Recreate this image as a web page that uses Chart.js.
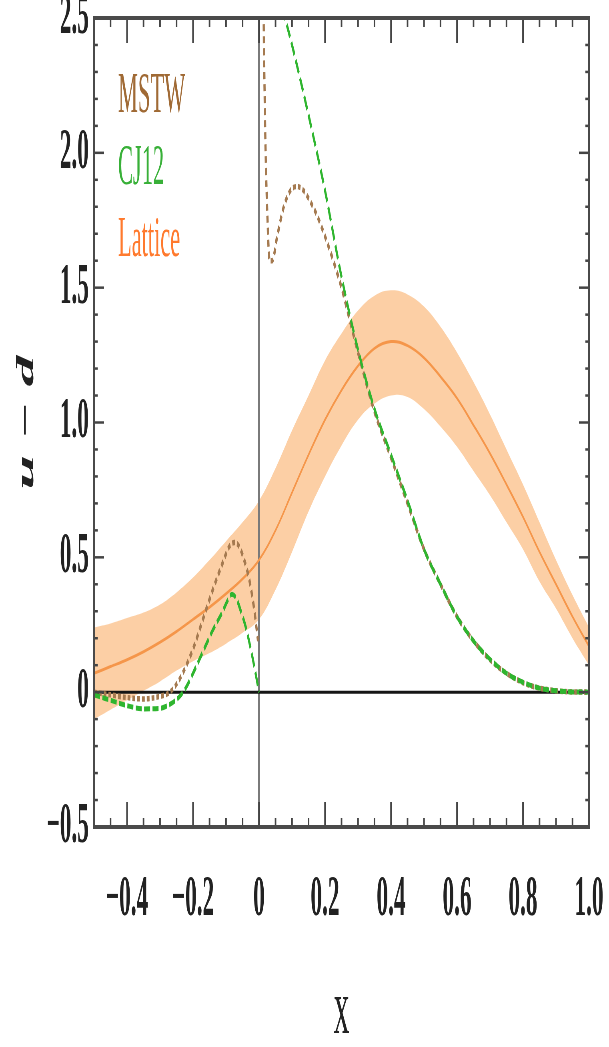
<!DOCTYPE html>
<html>
<head>
<meta charset="utf-8">
<script src="https://cdn.jsdelivr.net/npm/chart.js@4.4.1/dist/chart.umd.min.js"></script>
<style>
html, body { margin: 0; padding: 0; background: #fff; overflow: hidden; width: 609px; height: 1047px; }
/* the reference is squeezed horizontally, so draw wide and compress */
#wrap { position: absolute; left: 0; top: 0; width: 1522px; height: 1047px; transform: scaleX(0.40013); transform-origin: 0 0; }
</style>
</head>
<body>
<div id="wrap"><canvas id="chart" width="1522" height="1047"></canvas></div>
<script>
// ---- data ----
const latX = [-0.5,-0.45,-0.4,-0.35,-0.3,-0.25,-0.2,-0.15,-0.1,-0.05,0,0.05,0.1,0.15,0.2,0.25,0.3,0.35,0.4,0.45,0.5,0.55,0.6,0.65,0.7,0.75,0.8,0.85,0.9,0.95,1.0];
const latMid = [0.07,0.095,0.12,0.15,0.185,0.225,0.27,0.315,0.365,0.42,0.49,0.60,0.74,0.88,1.01,1.12,1.21,1.275,1.30,1.285,1.24,1.17,1.09,0.99,0.885,0.77,0.65,0.52,0.40,0.28,0.17];
const latUp = [0.24,0.255,0.275,0.295,0.325,0.37,0.425,0.49,0.56,0.63,0.71,0.83,0.97,1.10,1.23,1.33,1.415,1.47,1.49,1.475,1.43,1.355,1.26,1.15,1.03,0.90,0.77,0.63,0.49,0.36,0.24];
const latLo = [-0.10,-0.065,-0.03,0.005,0.04,0.08,0.115,0.145,0.18,0.22,0.27,0.38,0.52,0.67,0.80,0.915,1.01,1.07,1.10,1.095,1.05,0.985,0.91,0.82,0.73,0.63,0.53,0.41,0.31,0.20,0.10];

const mstwX = [-0.5,-0.45,-0.4,-0.35,-0.3,-0.27,-0.24,-0.2,-0.17,-0.14,-0.11,-0.09,-0.075,-0.06,-0.045,-0.03,-0.015,-0.003,0.005,
  0.012,0.016,0.02,0.025,0.032,0.04,0.055,0.075,0.095,0.115,0.135,0.155,0.175,0.2,0.225,0.25,0.275,0.3,0.35,0.4,0.45,0.5,0.55,0.6,0.65,0.7,0.75,0.8,0.85,0.9,0.95,1.0];
const mstwY = [0.0,-0.01,-0.02,-0.025,-0.015,0.0,0.05,0.16,0.27,0.38,0.48,0.54,0.555,0.54,0.49,0.42,0.31,0.19,null,
  2.7,2.3,2.0,1.78,1.6,1.6,1.69,1.8,1.86,1.875,1.86,1.82,1.77,1.69,1.6,1.5,1.38,1.26,1.04,0.87,0.70,0.53,0.40,0.28,0.19,0.12,0.07,0.035,0.015,0.005,0.001,0.0];

const cjX = [-0.5,-0.45,-0.4,-0.35,-0.3,-0.27,-0.24,-0.22,-0.2,-0.17,-0.14,-0.11,-0.095,-0.082,-0.07,-0.055,-0.04,-0.025,-0.012,0,0.03,
  0.07,0.1,0.15,0.2,0.25,0.3,0.35,0.4,0.45,0.5,0.55,0.6,0.65,0.7,0.75,0.8,0.85,0.9,0.95,1.0];
const cjY = [-0.01,-0.03,-0.05,-0.062,-0.06,-0.045,-0.015,0.02,0.07,0.15,0.23,0.30,0.34,0.363,0.35,0.30,0.24,0.16,0.08,0.0,null,
  2.54,2.40,2.14,1.86,1.54,1.27,1.05,0.88,0.71,0.53,0.40,0.28,0.19,0.122,0.07,0.037,0.015,0.005,0.001,0.0];

const xTicks = [-0.4,-0.2,0,0.2,0.4,0.6,0.8,1.0];
const xTickLabels = ['\u22120.4','\u22120.2','0','0.2','0.4','0.6','0.8','1.0'];
const yTicks = [-0.5,0,0.5,1.0,1.5,2.0,2.5];
const yTickLabels = ['\u22120.5','0','0.5','1.0','1.5','2.0','2.5'];

const legendNames = ['MSTW','CJ12','Lattice'];
const legendColors = ['#a06a35','#38b038','#ff7a2e'];

function pts(xs, ys) {
  return xs.map((x, i) => ({x: x, y: ys[i]}));
}

const tickFont = {family: 'Liberation Serif', size: 58, weight: 'bold'};

// frame, zero axes and inward tick marks in the Mathematica style
const framePlugin = {
  id: 'frame',
  beforeDatasetsDraw(chart) {
    const {ctx, chartArea: a, scales: {x, y}} = chart;
    ctx.save();
    const x0 = x.getPixelForValue(0);
    ctx.strokeStyle = '#7a7a7a';
    ctx.lineWidth = 5;
    ctx.beginPath(); ctx.moveTo(x0, a.top); ctx.lineTo(x0, a.bottom); ctx.stroke();
    const y0 = y.getPixelForValue(0);
    ctx.strokeStyle = '#151515';
    ctx.lineWidth = 3;
    ctx.beginPath(); ctx.moveTo(a.left, y0); ctx.lineTo(a.right, y0); ctx.stroke();
    ctx.restore();
  },
  afterDatasetsDraw(chart) {
    const {ctx, chartArea: a, scales: {x, y}} = chart;
    ctx.save();
    ctx.strokeStyle = '#444';
    // x ticks, every 0.05, long at every 0.2
    ctx.lineWidth = 4;
    for (let i = 0; i <= 30; i++) {
      const v = -0.5 + i * 0.05;
      const px = x.getPixelForValue(v);
      const major = Math.abs(Math.round(v / 0.2) * 0.2 - v) < 1e-6;
      const len = major ? 25 : 9;
      ctx.beginPath(); ctx.moveTo(px, a.bottom); ctx.lineTo(px, a.bottom - len); ctx.stroke();
      ctx.beginPath(); ctx.moveTo(px, a.top); ctx.lineTo(px, a.top + len); ctx.stroke();
    }
    // y ticks, every 0.1, long at every 0.5
    ctx.lineWidth = 2.5;
    for (let i = 0; i <= 30; i++) {
      const v = -0.5 + i * 0.1;
      const py = y.getPixelForValue(v);
      const major = Math.abs(Math.round(v / 0.5) * 0.5 - v) < 1e-6;
      const len = major ? 25 : 9;
      ctx.beginPath(); ctx.moveTo(a.left, py); ctx.lineTo(a.left + len, py); ctx.stroke();
      ctx.beginPath(); ctx.moveTo(a.right, py); ctx.lineTo(a.right - len, py); ctx.stroke();
    }
    ctx.strokeStyle = '#4a4a4a';
    ctx.lineWidth = 4;
    ctx.strokeRect(a.left, a.top, a.right - a.left, a.bottom - a.top);

    // legend as coloured text
    ctx.font = '56px "Liberation Serif"';
    ctx.textBaseline = 'alphabetic';
    ctx.textAlign = 'left';
    legendNames.forEach((name, i) => {
      ctx.fillStyle = legendColors[i];
      ctx.fillText(name, a.left + 60, a.top + 94 + i * 72);
    });
    ctx.restore();
  }
};

new Chart(document.getElementById('chart'), {
  type: 'line',
  data: {
    datasets: [
      {
        label: 'CJ12',
        data: pts(cjX, cjY),
        borderColor: '#2fb52f',
        borderWidth: 5,
        borderDash: [15, 6],
        pointRadius: 0,
        fill: false,
        spanGaps: false,
        cubicInterpolationMode: 'monotone'
      },
      {
        label: 'MSTW',
        data: pts(mstwX, mstwY),
        borderColor: '#a57a50',
        borderWidth: 5.5,
        borderDash: [7, 5],
        pointRadius: 0,
        fill: false,
        spanGaps: false,
        cubicInterpolationMode: 'monotone'
      },
      {
        label: 'Lattice',
        data: pts(latX, latMid),
        borderColor: '#f5964a',
        borderWidth: 3,
        pointRadius: 0,
        fill: false,
        tension: 0.4
      },
      {
        label: 'Lattice upper',
        data: pts(latX, latUp),
        borderWidth: 0,
        borderColor: 'rgba(0,0,0,0)',
        backgroundColor: 'rgba(249,160,76,0.5)',
        pointRadius: 0,
        fill: '+1',
        tension: 0.4
      },
      {
        label: 'Lattice lower',
        data: pts(latX, latLo),
        borderWidth: 0,
        borderColor: 'rgba(0,0,0,0)',
        pointRadius: 0,
        fill: false,
        tension: 0.4
      }
    ]
  },
  options: {
    responsive: false,
    animation: false,
    devicePixelRatio: 1,
    layout: { padding: { top: 18, right: 50, left: 0, bottom: 0 } },
    plugins: {
      legend: { display: false },
      tooltip: { enabled: false },
      filler: { drawTime: 'beforeDatasetsDraw' }
    },
    scales: {
      x: {
        type: 'linear',
        min: -0.5,
        max: 1.0,
        afterBuildTicks: s => { s.ticks = xTicks.map(v => ({value: v})); },
        afterFit: s => { s.height = 220; s.paddingLeft = 0; s.paddingRight = 0; },
        grid: { display: false, drawTicks: false },
        border: { display: false },
        ticks: {
          callback: (v, i) => xTickLabels[i],
          font: tickFont,
          color: '#222',
          padding: 38,
          maxRotation: 0,
          autoSkip: false
        },
        title: {
          display: true,
          text: 'x',
          color: '#222',
          font: { family: 'Liberation Serif', size: 78, lineHeight: 1 },
          padding: { top: 0, bottom: -5 }
        }
      },
      y: {
        type: 'linear',
        min: -0.5,
        max: 2.5,
        afterBuildTicks: s => { s.ticks = yTicks.map(v => ({value: v})); },
        afterFit: s => { s.width = 235; s.paddingTop = 0; s.paddingBottom = 0; },
        grid: { display: false, drawTicks: false },
        border: { display: false },
        ticks: {
          callback: (v, i) => yTickLabels[i],
          font: tickFont,
          color: '#222',
          padding: 13,
          autoSkip: false
        },
        title: {
          display: true,
          text: 'u \u2212 d',
          color: '#222',
          font: { family: 'Liberation Serif', size: 62, style: 'italic', weight: 'bold', lineHeight: 1.2 },
          padding: { top: 30, bottom: 0 }
        }
      }
    }
  },
  plugins: [framePlugin]
});
</script>
</body>
</html>
